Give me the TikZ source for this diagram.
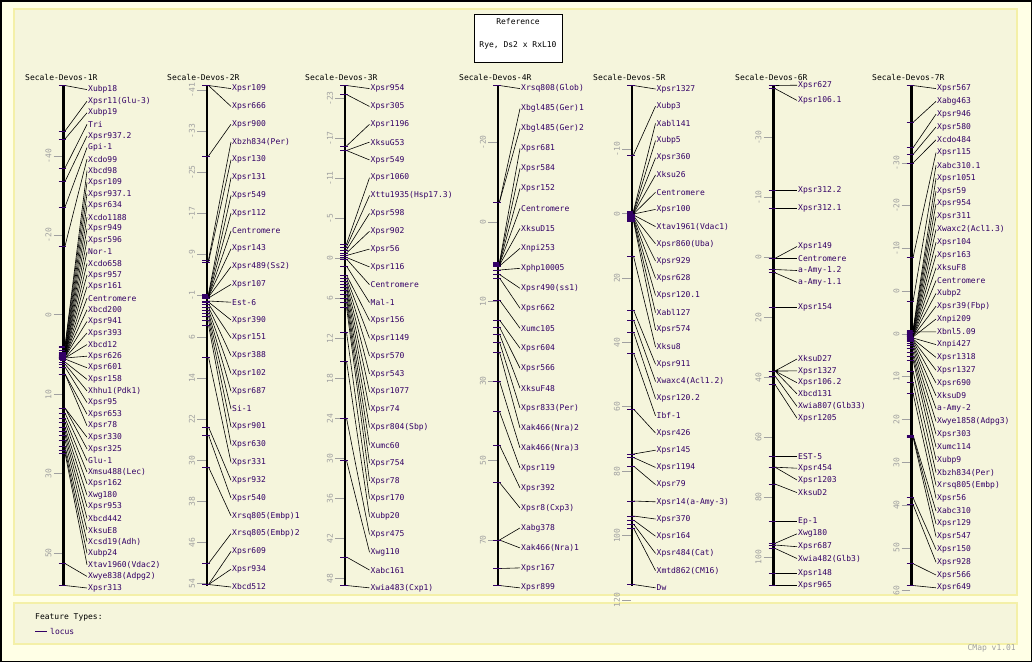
\documentclass[tikz,border=0pt]{standalone}
\usepackage{fontspec}
\newfontfamily\monof{DejaVu Sans Mono}
\newcommand{\lblfont}{\monof\fontsize{8}{9}\selectfont}
\definecolor{labpurple}{HTML}{330066}
\definecolor{tickgray}{HTML}{A0A0A0}
\definecolor{panelfill}{HTML}{F5F5DC}
\definecolor{panelborder}{HTML}{F4F0A8}
\definecolor{outerfill}{HTML}{FFFFE6}
\tikzset{
  lab/.style={anchor=west, inner sep=1pt, text=labpurple, font=\lblfont},
  conn/.style={draw=black, line width=0.6pt},
  locmark/.style={draw=labpurple, line width=0.9pt},
  ticknum/.style={rotate=90, text=tickgray, font=\lblfont, inner sep=0pt},
  tickln/.style={draw=tickgray, line width=0.7pt},
  chrbar/.style={line width=2.6pt, draw=black},
  ttl/.style={anchor=west, font=\lblfont, inner sep=0pt},
  panel/.style={fill=panelfill, draw=panelborder, line width=1.5pt},
}
% #1 id, #2 bar x, #3 label x, #4 first label y, #5 label step, #6 list label/locus
\newcommand{\chromo}[6]{%
  \draw[chrbar] (#2,85.5) -- (#2,585.5);
  \foreach \nm/\pp [count=\i from 0] in {#6} {
    \pgfmathsetmacro\ly{#4+\i*#5}
    \node[lab] (#1l\i) at (#3,\ly) {\nm};
    \coordinate (#1p\i) at (#2+1.5,\pp);
    \draw[conn] (#1p\i) -- (#1l\i.west);
    \draw[locmark] (#2-5,\pp) -- (#2+2.5,\pp);
  }
}
% #1 id, #2 bar x, #3 first y, #4 step, #5 values
\newcommand{\scaleticks}[5]{%
  \foreach \v [count=\k from 0] in {#5} {
    \pgfmathsetmacro\ty{#3+\k*#4}
    \draw[tickln] (#2-10,\ty) -- (#2-1.5,\ty);
    \node[ticknum] (#1t\k) at (#2-15,\ty) {\v};
  }
}
\begin{document}
\begin{tikzpicture}[x=1pt,y=-1pt]
\useasboundingbox (0,0) rectangle (1032,662);
\fill[outerfill] (0,0) rectangle (1032,662);
\draw[black, line width=1.5pt] (0.75,0.75) rectangle (1031.25,661.25);
\draw[panel] (14,9) rectangle (1017,595);
\draw[panel] (14,603) rectangle (1017,644);

% reference box
\node[draw=black, fill=white, line width=0.7pt, minimum width=88pt, minimum height=48pt, inner sep=0pt] (refbox) at (518,38) {};
\node[font=\lblfont, inner sep=0pt] (reftitle) at (518,22) {Reference};
\node[font=\lblfont, inner sep=0pt] (refsub) at (518,45) {Rye, Ds2 x RxL10};

% titles
\node[ttl] (ta) at (25,77) {Secale-Devos-1R};
\node[ttl] (tb) at (167,77) {Secale-Devos-2R};
\node[ttl] (tc) at (305,77) {Secale-Devos-3R};
\node[ttl] (td) at (459,77) {Secale-Devos-4R};
\node[ttl] (te) at (593,77) {Secale-Devos-5R};
\node[ttl] (tf) at (735,77) {Secale-Devos-6R};
\node[ttl] (tg) at (872,77) {Secale-Devos-7R};

% scale ticks
\scaleticks{a}{63.5}{156}{79.4}{-40,-20,0,10,30,50}
\scaleticks{b}{207}{90.3}{41.1}{-41,-33,-25,-17,-9,-1,6,14,22,30,38,46,54}
\scaleticks{c}{345}{98.5}{40}{-23,-17,-11,-5,0,6,12,18,24,30,36,42,48}
\scaleticks{d}{498}{142.5}{79.5}{-20,0,10,30,50,70}
\scaleticks{e}{632}{149.2}{64.4}{-10,0,20,40,60,80,100,120}
\scaleticks{f}{773.5}{137.6}{59.9}{-30,-10,0,20,40,60,80,100}
\scaleticks{g}{911.5}{163}{42.76}{-30,-20,-10,0,0,10,20,30,40,50,60}

% 1R
\chromo{a}{63.5}{87}{89.6}{11.59}{Xubp18/85.5, Xpsr11(Glu-3)/131, Xubp19/139, Tri/168, Xpsr937.2/181.5, Gpi-1/207, Xcdo99/246, Xbcd98/346, Xpsr109/347, Xpsr937.1/350, Xpsr634/352, Xcdo1188/353, Xpsr949/354, Xpsr596/355, Nor-1/355, Xcdo658/356, Xpsr957/356, Xpsr161/357, Centromere/357, Xbcd200/357, Xpsr941/357, Xpsr393/358, Xbcd12/358, Xpsr626/358, Xpsr601/359, Xpsr158/362, Xhhu1(Pdk1)/364, Xpsr95/367, Xpsr653/374, Xpsr78/374, Xpsr330/408, Xpsr325/408, Glu-1/413, Xmsu488(Lec)/418, Xpsr162/422, Xwg180/427, Xpsr953/431, Xbcd442/435, XksuE8/440, Xcsd19(Adh)/446, Xubp24/450, Xtav1960(Vdac2)/453, Xwye838(Adpg2)/563.5, Xpsr313/585.5}
\fill[labpurple] (59.5,352) rectangle (66,361);

% 2R
\chromo{b}{207}{231}{88.6}{17.8}{Xpsr109/85.5, Xpsr666/85.5, Xpsr900/156, Xbzh834(Per)/260, Xpsr130/262, Xpsr131/294, Xpsr549/295, Xpsr112/296, Centromere/296.5, Xpsr143/296.5, Xpsr489(Ss2)/297, Xpsr107/298, Est-6/301, Xpsr390/302, Xpsr151/304, Xpsr388/307, Xpsr102/310, Xpsr687/313, Si-1/316, Xpsr901/320, Xpsr630/325, Xpsr331/357, Xpsr932/427, Xpsr540/435, Xrsq805(Embp)1/467, Xrsq805(Embp)2/563.5, Xpsr609/584.5, Xpsr934/584.5, Xbcd512/584.5}

% 3R
\chromo{c}{345}{369.5}{88.6}{17.83}{Xpsr954/85.5, Xpsr305/94.5, Xpsr1196/146, XksuG53/150.5, Xpsr549/150.5, Xpsr1060/244, Xttu1935(Hsp17.3)/247, Xpsr598/250, Xpsr902/253, Xpsr56/255.5, Xpsr116/257.5, Centromere/259, Mal-1/266, Xpsr156/275, Xpsr1149/278, Xpsr570/281, Xpsr543/284, Xpsr1077/287, Xpsr74/290, Xpsr804(Sbp)/294, Xumc60/298, Xpsr754/302, Xpsr78/307, Xpsr170/332, Xubp20/361, Xpsr475/418, Xwg110/460.5, Xabc161/557, Xwia483(Cxp1)/585.5}

% 4R
\chromo{d}{498}{520}{88.6}{19.97}{Xrsq808(Glob)/85.5, Xbgl485(Ger)1/202, Xbgl485(Ger)2/202, Xpsr681/262.5, Xpsr584/263, Xpsr152/263.5, Centromere/264, XksuD15/265, Xnpi253/266, Xphp10005/270, Xpsr490(ss1)/274.5, Xpsr662/278, Xumc105/300, Xpsr604/320, Xpsr566/327, XksuF48/334, Xpsr833(Per)/342, Xak466(Nra)2/352, Xak466(Nra)3/381, Xpsr119/411.5, Xpsr392/445, Xpsr8(Cxp3)/482.5, Xabg378/540, Xak466(Nra)1/540, Xpsr167/568.5, Xpsr899/585.5}

% 5R
\chromo{e}{632}{655.5}{89}{17.2}{Xpsr1327/85.5, Xubp3/155, Xabl141/211, Xubp5/212, Xpsr360/213, Xksu26/213.5, Centromere/214, Xpsr100/214, Xtav1961(Vdac1)/215, Xpsr860(Uba)/216, Xpsr929/217, Xpsr628/218, Xpsr120.1/219, Xabl127/220, Xpsr574/221, Xksu8/256, Xpsr911/310, Xwaxc4(Acl1.2)/320, Xpsr120.2/332, Ibf-1/353, Xpsr426/409, Xpsr145/454, Xpsr1194/457.5, Xpsr79/466, Xpsr14(a-Amy-3)/501, Xpsr370/516, Xpsr164/520, Xpsr484(Cat)/524, Xmtd862(CM16)/528, Dw/584.5}

% 6R (uneven label spacing)
\draw[chrbar] (773.5,85.5) -- (773.5,585.5);
\foreach \nm/\ly/\pp [count=\i from 0] in {Xpsr627/85.2/85.5, Xpsr106.1/100.4/88.6, Xpsr312.2/190/190, Xpsr312.1/208.6/208.6, Xpsr149/246.5/258.3, Centromere/258.3/258.3, a-Amy-1.2/270.5/269.5, a-Amy-1.1/282.3/272.8, Xpsr154/307.3/307.3, XksuD27/359/371, Xpsr1327/370.9/371, Xpsr106.2/382.7/371, Xbcd131/393.9/371, Xwia807(Glb33)/406.4/376, Xpsr1205/418.2/384.4, EST-5/456.4/456.4, Xpsr454/468.2/467.2, Xpsr1203/480/467.2, XksuD2/492.6/484, Ep-1/521.3/521.3, Xwg180/533.8/543.3, Xpsr687/546.7/545, Xwia482(Glb3)/558.5/548.4, Xpsr148/573/573, Xpsr965/585.5/585.5} {
  \node[lab] (fl\i) at (797,\ly) {\nm};
  \coordinate (fp\i) at (775,\pp);
  \draw[conn] (fp\i) -- (fl\i.west);
  \draw[locmark] (768.5,\pp) -- (776,\pp);
}
\fill[black] (777,371) circle (1.4);

% 7R
\chromo{g}{911.5}{936}{88.6}{12.8}{Xpsr567/85.5, Xabg463/122.4, Xpsr946/147.8, Xpsr580/154.5, Xcdo484/163, Xpsr115/257.6, Xabc310.1/301.6, Xpsr1051/330, Xpsr59/331, Xpsr954/332, Xpsr311/333, Xwaxc2(Acl1.3)/334, Xpsr104/334.5, Xpsr163/335, XksuF8/335.5, Centromere/336, Xubp2/336, Xpsr39(Fbp)/336.5, Xnpi209/337, Xbnl5.09/332, Xnpi427/338, Xpsr1318/339, Xpsr1327/340, Xpsr690/341, XksuD9/343, a-Amy-2/345, Xwye1858(Adpg3)/348, Xpsr303/352, Xumc114/356, Xubp9/360, Xbzh834(Per)/371, Xrsq805(Embp)/382.7, Xpsr56/393, Xabc310/435, Xpsr129/436, Xpsr547/437, Xpsr150/497.7, Xpsr928/504.4, Xpsr566/563.6, Xpsr649/585.5}

% legend
\node[ttl] (ftypes) at (35,617) {Feature Types:};
\coordinate (lgA) at (35,631.5);
\coordinate (lgB) at (46.5,631.5);
\draw[labpurple, line width=1pt] (lgA) -- (lgB);
\node[ttl, text=labpurple] (lglocus) at (50,631.5) {locus};
\node[anchor=east, font=\lblfont, text=tickgray, inner sep=0pt] (cmapver) at (1016,648) {CMap v1.01};
\end{tikzpicture}
\end{document}
